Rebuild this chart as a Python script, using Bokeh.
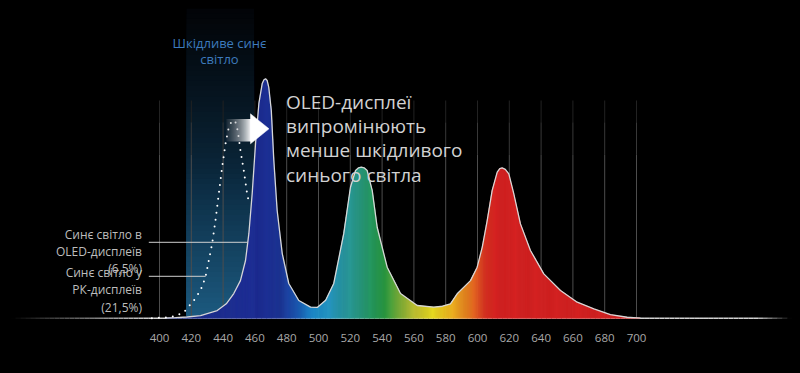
import numpy as np
from bokeh.plotting import figure
from bokeh.models import Range1d, FixedTicker, Label, ColumnDataSource
from bokeh.embed import file_html
from bokeh.resources import INLINE

# ---------------- data ----------------
# OLED emission spectrum (wavelength nm, relative intensity, blue peak = 100)
oled_nm = [404, 410, 417.4, 425.8, 436.3, 442, 446.7, 450.9, 454.1, 456.2, 458.3, 460.4,
           462.5, 464.6, 465.7, 466.7, 467.7, 468.7, 470.3, 471.9, 474.0, 477.2, 481.3,
           487.6, 495.0, 499.2, 504.5, 509.6, 515.9, 520.1, 523.3, 525.2, 526.9, 528.7,
           530.6, 533.8, 536.9, 543.2, 551.6, 562.1, 572.5, 578.0, 583.0, 587.2, 595.6,
           599.8, 603.0, 606.1, 609.2, 612.4, 614.0, 615.5, 617.5, 619.7, 622.8, 627.0,
           633.3, 641.7, 652.2, 662.7, 673.2, 683.6, 694.1, 702.5]
oled_val = [0.0, 0.2, 0.5, 1.1, 3.2, 6.0, 10.3, 15.7, 24.1, 35.3, 52.1, 73.0,
            89.7, 98.0, 99.6, 100.0, 99.3, 96.5, 86.8, 65.9, 45.0, 27.0, 14.5,
            7.4, 4.6, 4.5, 7.5, 14.5, 35.4, 54.7, 61.7, 62.8, 63.1, 62.8,
            61.7, 53.3, 38.0, 21.3, 10.3, 5.3, 4.6, 5.0, 6.0, 10.2, 15.7,
            21.3, 29.7, 40.8, 53.3, 61.0, 62.5, 62.8, 62.2, 60.3, 52.0, 39.4,
            28.3, 18.5, 11.6, 6.7, 3.9, 1.5, 0.4, 0.0]

# LCD blue emission (dotted)
lcd_nm = [395.2, 403.8, 410.1, 415.3, 421.6, 425.8, 428.9, 431.0, 433.1, 435.2, 437.3,
          439.4, 441.5, 443.6, 445.7, 447.8, 449.2, 450.9, 453.0, 455.1, 456.2]
lcd_val = [0.0, 0.3, 0.9, 2.5, 7.4, 11.6, 17.1, 24.1, 31.1, 40.8, 52.0,
           63.1, 72.8, 79.8, 82.6, 81.9, 78.4, 70.1, 61.7, 52.0, 48.5]

tick_nm = [400, 420, 440, 460, 480, 500, 520, 540, 560, 580, 600, 620, 640, 660, 680, 700]
harmful_band = [417.0, 459.5]
note_levels = [31.7, 17.5]          # OLED note, LCD note

band_label = ["Шкідливе синє", "світло"]
headline = ["OLED-дисплеї", "випромінюють", "менше шкідливого", "синього світла"]
oled_note = ["Синє світло в", "OLED-дисплеїв", "(6,5%)"]
lcd_note = ["Синє світло у", "РК-дисплеїв", "(21,5%)"]

# ---------------- layout helpers (image pixels -> data) ----------------
PX_PER_NM = 1.59
PX_PER_UNIT = 2.394
def px_x(px):
    return 400 + (px - 159) / PX_PER_NM
def px_y(py):
    return (317.7 - py) / PX_PER_UNIT

FONT = "Open Sans"

p = figure(width=784, height=357, output_backend="svg", toolbar_location=None,
           x_range=Range1d(px_x(8), px_x(792)), y_range=Range1d(px_y(322), px_y(8)),
           y_axis_location=None, min_border_left=0, min_border_right=0,
           min_border_top=0, min_border_bottom=43)
p.background_fill_color = "black"
p.border_fill_color = "black"
p.outline_line_color = None
p.xgrid.visible = False
p.ygrid.visible = False

ax = p.xaxis[0]
ax.ticker = FixedTicker(ticks=tick_nm)
ax.axis_line_color = None
ax.major_tick_line_color = None
ax.minor_tick_line_color = None
ax.major_tick_out = 0
ax.major_tick_in = 0
ax.major_label_standoff = 11
ax.major_label_text_color = "#a9a9a9"
ax.major_label_text_font = FONT
ax.major_label_text_font_size = "11.5px"

def hex2rgb(h):
    h = h.lstrip("#")
    return np.array([int(h[i:i + 2], 16) for i in (0, 2, 4)], dtype=float)
def rgb2hex(c):
    c = np.clip(np.round(c), 0, 255).astype(int)
    return "#%02x%02x%02x" % tuple(c)

# ---------------- harmful blue band (vertical gradient, overlapping layers) ----------------
band_bottom = hex2rgb("#1c5a80")
band_mid = hex2rgb("#0b2a40")
band_top = hex2rgb("#020407")
y_top = px_y(8)
N = 60
bq = dict(top=[], color=[])
for j in range(N - 1, -1, -1):
    t = (j + 0.5) / N
    if t < 0.45:
        c = band_bottom + (band_mid - band_bottom) * (t / 0.45)
    else:
        c = band_mid + (band_top - band_mid) * ((t - 0.45) / 0.55) ** 0.8
    bq["top"].append(y_top * (j + 1) / N)
    bq["color"].append(rgb2hex(c))
p.quad(left=harmful_band[0], right=harmful_band[1], bottom=0, top="top",
       fill_color="color", line_color=None, source=ColumnDataSource(bq))

# ---------------- vertical grid lines ----------------
g_top = px_y(100)
p.segment(x0=tick_nm, x1=tick_nm, y0=[0] * len(tick_nm), y1=[g_top * 0.75] * len(tick_nm),
          line_color="#4d4d4d", line_width=1)
p.segment(x0=tick_nm, x1=tick_nm, y0=[g_top * 0.75] * len(tick_nm), y1=[g_top * 0.9] * len(tick_nm),
          line_color="#383838", line_width=1)
p.segment(x0=tick_nm, x1=tick_nm, y0=[g_top * 0.9] * len(tick_nm), y1=[g_top] * len(tick_nm),
          line_color="#222222", line_width=1)

# ---------------- baseline with faded ends ----------------
xb0, xb1 = px_x(10), px_x(792)
edges = np.linspace(xb0, xb1, 160)
bcol = []
for a, b in zip(edges[:-1], edges[1:]):
    m = 0.5 * (a + b)
    f = min(1.0, max(0.0, (m - px_x(12)) / (px_x(150) - px_x(12))),
            max(0.0, (px_x(790) - m) / (px_x(790) - px_x(755))))
    bcol.append(rgb2hex(hex2rgb("#d2d2d2") * f))
p.segment(x0=edges[:-1], x1=edges[1:], y0=0, y1=0, line_color=bcol, line_width=1.6)

# ---------------- spectrum fill with colour gradient ----------------
stops_nm = [400, 462, 476, 486, 497, 506, 515, 525, 535, 542, 551, 561, 572, 583, 595, 605, 612, 710]
stops_hex = ["#1b2a86", "#1f2e96", "#1f3698", "#1c56b2", "#1e8dcd", "#2697c6", "#2a99a6",
             "#2a9a86", "#26995a", "#2c9b42", "#7cb03a", "#c2c232", "#e9db22", "#efb822",
             "#e87c22", "#dc3424", "#d82424", "#d42222"]
stops_rgb = np.array([hex2rgb(h) for h in stops_hex])
def spec_color(nm):
    return rgb2hex([np.interp(nm, stops_nm, stops_rgb[:, k]) for k in range(3)])

fine = np.arange(oled_nm[0], oled_nm[-1] + 0.01, 0.6)
tops = np.interp(fine, oled_nm, oled_val)
sx, sy, sc = [], [], []
for i in range(len(fine) - 1):
    sx.append([fine[i], fine[i], fine[i + 1], fine[i + 1]])
    sy.append([0, tops[i], tops[i + 1], 0])
    sc.append(spec_color(0.5 * (fine[i] + fine[i + 1])))
p.patches(xs="xs", ys="ys", fill_color="c", line_color="c", line_width=0.6,
          source=ColumnDataSource(dict(xs=sx, ys=sy, c=sc)))

p.line(oled_nm, oled_val, line_color="#d6d6d6", line_width=1.3)

# ---------------- LCD dotted curve ----------------
p.line(lcd_nm, lcd_val, line_color="white", line_width=2.0, line_dash="0 7", line_cap="round")

# ---------------- annotation pointer lines ----------------
pk = int(np.argmax(oled_val))
x_oled = float(np.interp(note_levels[0], oled_val[:pk + 1], oled_nm[:pk + 1]))
lk = int(np.argmax(lcd_val))
x_lcd = float(np.interp(note_levels[1], lcd_val[:lk + 1], lcd_nm[:lk + 1]))
p.segment(x0=[px_x(148.3)] * 2, x1=[x_oled, x_lcd], y0=note_levels, y1=note_levels,
          line_color="#cfcfcf", line_width=1)

# ---------------- arrow ----------------
ay0, ay1 = px_y(141), px_y(118.5)
sxs = np.linspace(px_x(226), px_x(250.5), 26)
aq = dict(l=[], r=[], c=[], a=[])
for i in range(len(sxs) - 1):
    t = (i + 0.5) / (len(sxs) - 1)
    aq["l"].append(sxs[i]); aq["r"].append(sxs[i + 1])
    aq["c"].append(rgb2hex(hex2rgb("#7a7f86") + (hex2rgb("#ffffff") - hex2rgb("#7a7f86")) * t))
    aq["a"].append(0.15 + 0.85 * t ** 0.8)
p.quad(left="l", right="r", bottom=ay0, top=ay1, fill_color="c", fill_alpha="a",
       line_color=None, source=ColumnDataSource(aq))
p.patch([px_x(250), px_x(268.5), px_x(250)], [px_y(113.3), px_y(128.3), px_y(143.3)],
        fill_color="white", line_color="white", line_width=0.5)

# ---------------- texts ----------------
for k, s in enumerate(band_label):
    p.add_layout(Label(x=px_x(219), y=px_y([42.3, 58.8][k]), text=s, text_align="center",
                       text_baseline="middle", text_color="#3d7bbd", text_font=FONT,
                       text_font_size="13px"))
for k, s in enumerate(headline):
    p.add_layout(Label(x=px_x(285.5), y=px_y(101.5 + 24.2 * k), text=s, text_align="left",
                       text_baseline="middle", text_color="#d2d2d2", text_font=FONT,
                       text_font_size="19px"))
for k, s in enumerate(oled_note):
    p.add_layout(Label(x=px_x(141.5), y=px_y(234 + 16.8 * k), text=s, text_align="right",
                       text_baseline="middle", text_color="#bdbdbd", text_font=FONT,
                       text_font_size="12px"))
for k, s in enumerate(lcd_note):
    p.add_layout(Label(x=px_x(141.5), y=px_y(272 + 17.3 * k), text=s, text_align="right",
                       text_baseline="middle", text_color="#bdbdbd", text_font=FONT,
                       text_font_size="12px"))

html = file_html(p, INLINE, title="OLED blue light")
html = html.replace("</head>",
                    "<style>html{background:#000;}body{background:#000;margin:8px;}</style></head>", 1)
open("out.html", "w").write(html)
